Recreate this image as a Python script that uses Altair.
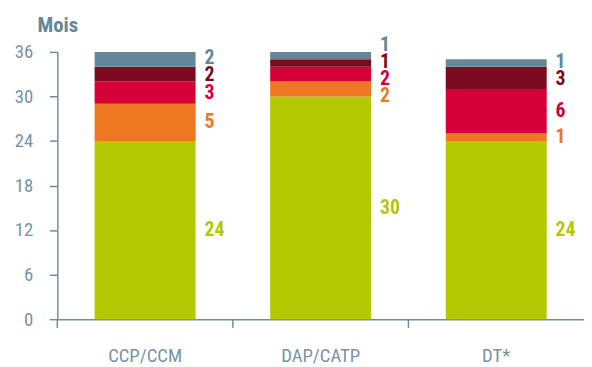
import altair as alt
import pandas as pd

categories = ["CCP/CCM", "DAP/CATP", "DT*"]
# segments from bottom to top
seg_green = [24, 30, 24]
seg_orange = [5, 2, 1]
seg_red = [3, 2, 6]
seg_darkred = [2, 1, 3]
seg_slate = [2, 1, 1]
seg_names = ["green", "orange", "red", "darkred", "slate"]
seg_colors = ["#b4c800", "#ee7721", "#d40037", "#7c0a20", "#658799"]
y_ticks = [0, 6, 12, 18, 24, 30, 36]

FONT = "Liberation Sans Narrow, Roboto Condensed, Arial Narrow, sans-serif"
AXIS_COLOR = "#6e8da0"
TEXT_COLOR = "#7893a6"
GAP = 2.3


def spread(mids, gap):
    # merge overlapping labels into clusters centred on their midpoints
    clusters = []  # each: [list of mids]
    for m in mids:
        clusters.append([m])
        while len(clusters) > 1:
            a, b = clusters[-2], clusters[-1]
            ca = sum(a) / len(a) + gap * (len(a) - 1) / 2
            cb = sum(b) / len(b) - gap * (len(b) - 1) / 2
            if cb - ca < gap:
                clusters[-2:] = [a + b]
            else:
                break
    out = []
    for c in clusters:
        centre = sum(c) / len(c)
        start = centre - gap * (len(c) - 1) / 2
        out += [start + i * gap for i in range(len(c))]
    return out


series = [seg_green, seg_orange, seg_red, seg_darkred, seg_slate]
rows = []
for ci, cat in enumerate(categories):
    base = 0
    mids = []
    recs = []
    for si, vals in enumerate(series):
        v = vals[ci]
        mids.append(base + v / 2)
        recs.append({
            "cat": cat, "seg": seg_names[si], "order": si,
            "y0": base, "y1": base + v, "value": v,
            "color": seg_colors[si],
        })
        base += v
    for r, lp in zip(recs, spread(mids, GAP)):
        r["labpos"] = lp
    rows += recs
df = pd.DataFrame(rows)

W, H = 534, 271

xscale = alt.Scale(domain=categories, paddingInner=0, paddingOuter=0)
yscale = alt.Scale(domain=[0, 36], nice=False)

bars = alt.Chart(df).mark_bar(width={"band": 0.575}).encode(
    x=alt.X("cat:N", scale=xscale, sort=categories,
            axis=alt.Axis(title=None, ticks=False, labelAngle=0, labelPadding=28,
                          labelFontSize=19, labelColor=TEXT_COLOR, domainColor=AXIS_COLOR,
                          domainWidth=1.5, labelFont=FONT, grid=False)),
    y=alt.Y("y0:Q", scale=yscale,
            axis=alt.Axis(values=y_ticks, title="Mois", titleAngle=0, titleX=0, titleY=-21,
                          titleAlign="center", titleBaseline="alphabetic",
                          titleFontSize=21, titleFontWeight="bold", titleColor="#678699",
                          titleFont=FONT, labelFont=FONT, labelFontSize=19,
                          labelColor=TEXT_COLOR, labelPadding=17, tickSize=8,
                          tickColor=AXIS_COLOR, tickWidth=1.5, domainColor=AXIS_COLOR,
                          domainWidth=1.5, grid=False)),
    y2="y1:Q",
    color=alt.Color("color:N", scale=None),
)

labels = alt.Chart(df).mark_text(
    align="left", baseline="middle", dx=9, fontSize=20, fontWeight="bold", font=FONT
).encode(
    x=alt.X("cat:N", scale=xscale, sort=categories, bandPosition=0.7875),
    y=alt.Y("labpos:Q", scale=yscale),
    text=alt.Text("value:Q"),
    color=alt.Color("color:N", scale=None),
)

ticks_df = pd.DataFrame({"cat": categories})
xticks = alt.Chart(ticks_df).mark_rule(color=AXIS_COLOR, strokeWidth=1.5).encode(
    x=alt.X("cat:N", scale=xscale, sort=categories, bandPosition=0),
    y=alt.value(H),
    y2=alt.value(H + 9),
)

chart = alt.layer(bars, labels, xticks).properties(
    width=W, height=H,
    autosize=alt.AutoSizeParams(type="none"),
    padding={"left": 50, "top": 42, "right": 0, "bottom": 45},
).configure_view(stroke=None)

chart.save("out.html", embed_options={"renderer": "svg", "actions": False})
